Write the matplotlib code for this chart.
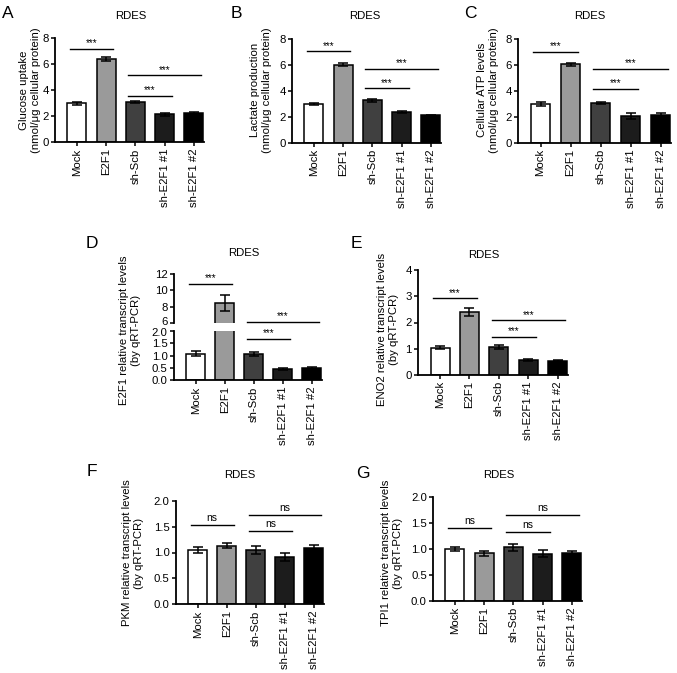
import matplotlib
matplotlib.use("Agg")
import matplotlib.pyplot as plt
import matplotlib.transforms as mtrans
import numpy as np

plt.rcParams['font.family'] = ['Liberation Sans', 'DejaVu Sans']

W, H = 677, 673

groups = ["Mock", "E2F1", "sh-Scb", "sh-E2F1 #1", "sh-E2F1 #2"]
bar_colors = ["#ffffff", "#9a9a9a", "#404040", "#1c1c1c", "#000000"]

# Panel A: glucose uptake
glucose_mean = [2.97, 6.37, 3.07, 2.12, 2.22]
glucose_err = [0.12, 0.15, 0.05, 0.12, 0.11]
# Panel B: lactate production
lactate_mean = [3.00, 6.03, 3.28, 2.36, 2.13]
lactate_err = [0.06, 0.10, 0.14, 0.07, 0.05]
# Panel C: cellular ATP
atp_mean = [2.98, 6.04, 3.06, 2.08, 2.15]
atp_err = [0.17, 0.14, 0.08, 0.26, 0.13]
# Panel D: E2F1 transcript
e2f1_mean = [1.08, 8.45, 1.06, 0.45, 0.49]
e2f1_err = [0.12, 0.95, 0.08, 0.05, 0.03]
# Panel E: ENO2 transcript
eno2_mean = [1.04, 2.40, 1.08, 0.57, 0.55]
eno2_err = [0.06, 0.17, 0.08, 0.03, 0.03]
# Panel F: PKM transcript
pkm_mean = [1.05, 1.13, 1.05, 0.92, 1.08]
pkm_err = [0.05, 0.05, 0.07, 0.08, 0.07]
# Panel G: TPI1 transcript
tpi1_mean = [1.00, 0.92, 1.03, 0.91, 0.92]
tpi1_err = [0.04, 0.05, 0.07, 0.07, 0.05]

# significance brackets: (i, j, y, label)
sig_A = [(0, 1, 7.17, "***"), (2, 4, 5.13, "***"), (2, 3, 3.56, "***")]
sig_B = [(0, 1, 7.05, "***"), (2, 4, 5.72, "***"), (2, 3, 4.2, "***")]
sig_C = [(0, 1, 7.02, "***"), (2, 4, 5.68, "***"), (2, 3, 4.14, "***")]
sig_E = [(0, 1, 2.92, "***"), (2, 4, 2.08, "***"), (2, 3, 1.46, "***")]
sig_F = [(0, 1, 1.53, "ns"), (2, 4, 1.72, "ns"), (2, 3, 1.42, "ns")]
sig_G = [(0, 1, 1.40, "ns"), (2, 4, 1.65, "ns"), (2, 3, 1.33, "ns")]

FS = 8.2
STAR = 7
fig = plt.figure(figsize=(W / 100, H / 100), dpi=100)


def add_ax(l, r, t, b):
    return fig.add_axes([l / W, 1 - b / H, (r - l) / W, (b - t) / H])


def style(ax, show_x=True):
    for s in ["top", "right"]:
        ax.spines[s].set_visible(False)
    for s in ["left", "bottom"]:
        ax.spines[s].set_linewidth(1.3)
    ax.tick_params(axis="both", direction="out", length=3, width=1.1,
                   labelsize=FS, pad=1.5)
    x = np.arange(len(groups))
    ax.set_xlim(-0.75, 4.35)
    if show_x:
        ax.set_xticks(x)
        ax.set_xticklabels(groups, rotation=90)
    else:
        ax.set_xticks([])
        ax.spines["bottom"].set_visible(False)


def bars(ax, mean, err):
    x = np.arange(len(groups))
    ax.bar(x, mean, width=0.65, color=bar_colors, edgecolor="black",
           linewidth=1.1, zorder=2)
    ax.errorbar(x, mean, yerr=err, fmt="none", ecolor="black", elinewidth=1.1,
                capsize=3.5, capthick=1.1, zorder=3)


def sig(ax, items, fs):
    for i, j, y, lab in items:
        ax.plot([i - 0.25, j + 0.25], [y, y], color="black", lw=1.0,
                clip_on=False, zorder=4)
        off = 0.5 if lab == "***" else 1.5
        ax.annotate(lab, xy=((i + j) / 2, y), xytext=(0, off),
                    textcoords="offset points", ha="center", va="bottom",
                    fontsize=fs, annotation_clip=False)


def ftext(x, y, s, **kw):
    fig.text(x / W, 1 - y / H, s, **kw)


def ylab(x, y, s):
    ftext(x, y, s, rotation=90, ha="center", va="center", fontsize=FS,
          multialignment="center", linespacing=1.15)


# ---- A ----
axA = add_ax(55, 204, 38, 142)
bars(axA, glucose_mean, glucose_err)
style(axA)
axA.set_ylim(0, 8)
axA.set_yticks([0, 2, 4, 6, 8])
sig(axA, sig_A, STAR)
ylab(30, 90, "Glucose uptake\n(nmol/μg cellular protein)")
ftext(131, 16, "RDES", ha="center", va="center", fontsize=FS)
ftext(2, 14, "A", ha="left", va="center", fontsize=12.5)

# ---- B ----
axB = add_ax(292, 441, 39, 143)
bars(axB, lactate_mean, lactate_err)
style(axB)
axB.set_ylim(0, 8)
axB.set_yticks([0, 2, 4, 6, 8])
sig(axB, sig_B, STAR)
ylab(261, 90, "Lactate production\n(nmol/μg cellular protein)")
ftext(365, 16, "RDES", ha="center", va="center", fontsize=FS)
ftext(231, 13, "B", ha="left", va="center", fontsize=12.5)

# ---- C ----
axC = add_ax(518, 671, 39, 143)
bars(axC, atp_mean, atp_err)
style(axC)
axC.set_ylim(0, 8)
axC.set_yticks([0, 2, 4, 6, 8])
sig(axC, sig_C, STAR)
ylab(488, 90, "Cellular ATP levels\n(nmol/μg cellular protein)")
ftext(590, 16, "RDES", ha="center", va="center", fontsize=FS)
ftext(464, 13, "C", ha="left", va="center", fontsize=12.5)

# ---- D (broken axis) ----
axDu = add_ax(174, 322, 274, 323)
axDl = add_ax(174, 322, 331, 380)
bars(axDu, e2f1_mean, e2f1_err)
bars(axDl, e2f1_mean, e2f1_err)
style(axDu, show_x=False)
style(axDl)
axDu.set_ylim(6, 12)
axDu.set_yticks([6, 8, 10, 12])
axDl.set_ylim(0, 2)
axDl.set_yticks([0, 0.5, 1.0, 1.5, 2.0])
axDl.set_yticklabels(["0.0", "0.5", "1.0", "1.5", "2.0"])
fig.canvas.draw()
lab6 = axDu.get_yticklabels()[0]
lab6.set_transform(lab6.get_transform() +
                   mtrans.ScaledTranslation(0, 2.5 / 100, fig.dpi_scale_trans))
lab2 = axDl.get_yticklabels()[-1]
lab2.set_transform(lab2.get_transform() +
                   mtrans.ScaledTranslation(0, -1.5 / 100, fig.dpi_scale_trans))
sig(axDu, [(0, 1, 10.75, "***"), (2, 4, 6.15, "***")], STAR)
sig(axDl, [(2, 3, 1.67, "***")], STAR)
ylab(130, 330, "E2F1 relative transcript levels\n(by qRT-PCR)")
ftext(244, 253, "RDES", ha="center", va="center", fontsize=FS)
ftext(86, 243, "D", ha="left", va="center", fontsize=12.5)

# ---- E ----
axE = add_ax(418, 568, 270, 375)
bars(axE, eno2_mean, eno2_err)
style(axE)
axE.set_ylim(0, 4)
axE.set_yticks([0, 1, 2, 3, 4])
sig(axE, sig_E, STAR)
ylab(388, 329, "ENO2 relative transcript levels\n(by qRT-PCR)")
ftext(484, 255, "RDES", ha="center", va="center", fontsize=FS)
ftext(351, 243, "E", ha="left", va="center", fontsize=12.5)

# ---- F ----
axF = add_ax(176, 324, 501, 604)
bars(axF, pkm_mean, pkm_err)
style(axF)
axF.set_ylim(0, 2)
axF.set_yticks([0, 0.5, 1.0, 1.5, 2.0])
axF.set_yticklabels(["0.0", "0.5", "1.0", "1.5", "2.0"])
sig(axF, sig_F, 7.5)
ylab(133, 553, "PKM relative transcript levels\n(by qRT-PCR)")
ftext(240, 475, "RDES", ha="center", va="center", fontsize=FS)
ftext(87, 472, "F", ha="left", va="center", fontsize=12.5)

# ---- G ----
axG = add_ax(433, 582, 497, 601)
bars(axG, tpi1_mean, tpi1_err)
style(axG)
axG.set_ylim(0, 2)
axG.set_yticks([0, 0.5, 1.0, 1.5, 2.0])
axG.set_yticklabels(["0.0", "0.5", "1.0", "1.5", "2.0"])
sig(axG, sig_G, 7.5)
ylab(392, 553, "TPI1 relative transcript levels\n(by qRT-PCR)")
ftext(499, 475, "RDES", ha="center", va="center", fontsize=FS)
ftext(356, 473, "G", ha="left", va="center", fontsize=12.5)

fig.savefig("out.png", dpi=100)
